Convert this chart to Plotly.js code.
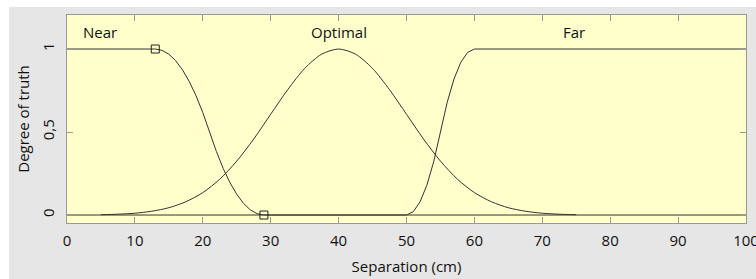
<!DOCTYPE html>
<html>
<head>
<meta charset="utf-8">
<script src="https://cdn.plot.ly/plotly-3.0.1.min.js"></script>
<style>
html, body { margin: 0; padding: 0; background: #ffffff; width: 756px; height: 279px; overflow: hidden; }
#chart { position: absolute; left: 9px; top: 7px; width: 747px; height: 272px; }
</style>
</head>
<body>
<div id="chart"></div>
<script>
// Membership functions
const nearX = [0, 13, 14, 15, 16, 17, 18, 19, 20, 21, 22, 23, 24, 25, 26, 27, 28, 29, 100];
const nearY = [1, 1, 0.992, 0.969, 0.930, 0.875, 0.805, 0.719, 0.617, 0.5, 0.383, 0.281, 0.195, 0.125, 0.070, 0.031, 0.008, 0, 0];

const optimalX = [5, 7.5, 10, 12.5, 15, 17.5, 20, 22.5, 25, 27.5, 30, 32.5, 35, 37.5, 40,
                  42.5, 45, 47.5, 50, 52.5, 55, 57.5, 60, 62.5, 65, 67.5, 70, 72.5, 75];
const optimalY = [0.002, 0.005, 0.011, 0.023, 0.044, 0.080, 0.135, 0.216, 0.325, 0.458, 0.607, 0.755, 0.883, 0.969, 1,
                  0.969, 0.883, 0.755, 0.607, 0.458, 0.325, 0.216, 0.135, 0.080, 0.044, 0.023, 0.011, 0.005, 0.002];

const farX = [0, 50, 51, 52, 53, 54, 55, 56, 57, 58, 59, 60, 100];
const farY = [0, 0, 0.02, 0.08, 0.18, 0.32, 0.5, 0.68, 0.82, 0.92, 0.98, 1, 1];

const handleX = [13, 29];
const handleY = [1, 0];

const labelNames = ['Near', 'Optimal', 'Far'];
const labelX = [4.8, 40, 74.6];
const labelY = [1.1, 1.1, 1.1];

const xTicks = [0, 10, 20, 30, 40, 50, 60, 70, 80, 90, 100];
const yTickVals = [0, 0.5, 1];
const yTickText = ['0', '0,5', '1'];

const lineStyle = { color: '#333333', width: 1 };
const fontFamily = '"Open Sans", "DejaVu Sans", sans-serif';

const traces = [
  { x: nearX, y: nearY, mode: 'lines', line: Object.assign({ shape: 'linear' }, lineStyle), hoverinfo: 'skip' },
  { x: optimalX, y: optimalY, mode: 'lines', line: Object.assign({ shape: 'spline', smoothing: 0.8 }, lineStyle), hoverinfo: 'skip' },
  { x: farX, y: farY, mode: 'lines', line: Object.assign({ shape: 'linear' }, lineStyle), hoverinfo: 'skip' },
  { x: handleX, y: handleY, mode: 'markers',
    marker: { symbol: 'square-open', size: 8, color: '#222222', line: { width: 1, color: '#222222' } }, hoverinfo: 'skip' }
];

const annotations = labelNames.map((t, i) => ({
  x: labelX[i], y: labelY[i], xref: 'x', yref: 'y', text: t, showarrow: false,
  font: { family: fontFamily, size: 15, color: '#111111' }, xanchor: 'center', yanchor: 'middle'
}));

const layout = {
  width: 747, height: 272,
  margin: { l: 58, r: 10, t: 8, b: 56 },
  paper_bgcolor: '#e6e6e6',
  plot_bgcolor: '#ffffcc',
  showlegend: false,
  font: { family: fontFamily, size: 15, color: '#111111' },
  xaxis: {
    range: [0, 100], tickvals: xTicks, ticks: 'inside', ticklen: 6, tickcolor: '#999999',
    showgrid: false, zeroline: false, showline: true, mirror: 'ticks', linecolor: '#999999', linewidth: 1,
    tickfont: { size: 15 }, ticklabelstandoff: 4, ticklabeloverflow: 'allow',
    title: { text: 'Separation (cm)', font: { size: 15 }, standoff: 12 }
  },
  yaxis: {
    range: [-0.048, 1.205], tickvals: yTickVals, ticktext: yTickText, tickangle: -90,
    ticks: 'inside', ticklen: 6, tickcolor: '#999999',
    showgrid: false, zeroline: false, showline: true, mirror: 'ticks', linecolor: '#999999', linewidth: 1,
    tickfont: { size: 15 }, ticklabelstandoff: 6,
    title: { text: 'Degree of truth', font: { size: 15 }, standoff: 4 }
  },
  annotations: annotations
};

Plotly.newPlot('chart', traces, layout, { displayModeBar: false, staticPlot: true });
</script>
</body>
</html>
